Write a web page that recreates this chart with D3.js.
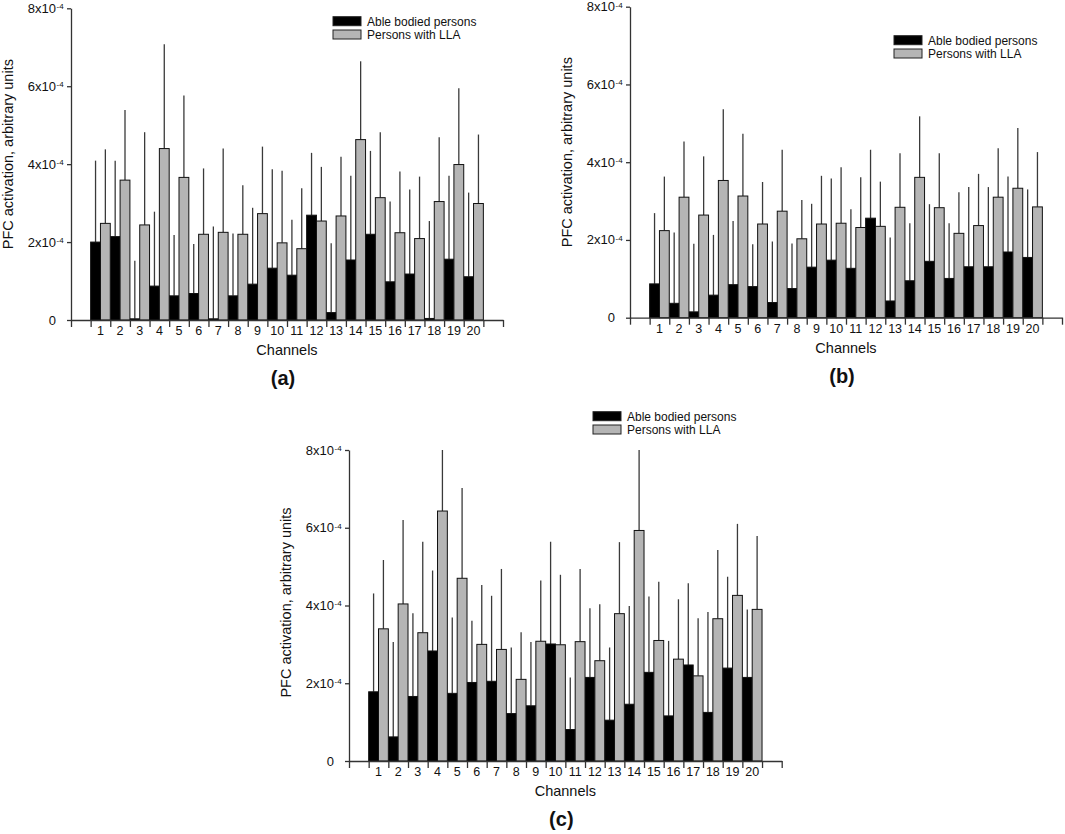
<!DOCTYPE html>
<html>
<head>
<meta charset="utf-8">
<script src="https://cdn.jsdelivr.net/npm/d3@7"></script>
<style>
  body { margin: 0; background: #fff; }
  svg { font-family: "Liberation Sans", Arial, sans-serif; }
</style>
</head>
<body>
<svg id="chart" width="1065" height="834"></svg>
<script>
// categories
var channels = ['1', '2', '3', '4', '5', '6', '7', '8', '9', '10',
  '11', '12', '13', '14', '15', '16', '17', '18', '19', '20']
var seriesNames = ['Able bodied persons', 'Persons with LLA']

// y ticks, values in units of 1e-4
var yTicks = [0, 2, 4, 6, 8]
var yTickBase = ['0', '2x10', '4x10', '6x10', '8x10']
var yTickExp = ['', '-4', '-4', '-4', '-4']

// (a) mean and SD, x1e-4
var ableA = [2.00, 2.14, 0.03, 0.87, 0.62, 0.68, 0.03, 0.62, 0.92, 1.33, 1.15, 2.69, 0.19, 1.54, 2.20, 0.98, 1.18, 0.04, 1.56, 1.11]
var ableSdA = [2.09, 1.95, 1.49, 1.91, 1.56, 1.27, 2.37, 1.60, 1.96, 2.54, 1.42, 1.60, 1.78, 2.16, 2.14, 2.06, 2.17, 2.50, 2.14, 2.16]
var llaA = [2.48, 3.59, 2.44, 4.40, 3.66, 2.20, 2.25, 2.20, 2.73, 1.98, 1.83, 2.54, 2.67, 4.63, 3.14, 2.24, 2.09, 3.04, 3.99, 2.99]
var llaSdA = [1.90, 1.80, 2.38, 2.68, 2.10, 1.69, 2.15, 1.26, 1.72, 1.85, 1.55, 1.39, 1.52, 2.01, 1.68, 1.57, 1.59, 1.65, 1.96, 1.77]

// (b)
var ableB = [0.87, 0.37, 0.15, 0.58, 0.85, 0.80, 0.39, 0.75, 1.30, 1.48, 1.27, 2.56, 0.43, 0.95, 1.45, 1.01, 1.31, 1.31, 1.69, 1.55]
var ableSdB = [1.82, 1.82, 1.75, 1.55, 1.64, 1.09, 1.57, 1.16, 1.63, 2.10, 1.52, 1.76, 1.63, 1.48, 1.47, 1.42, 2.05, 2.05, 1.94, 1.75]
var llaB = [2.24, 3.10, 2.64, 3.53, 3.13, 2.41, 2.74, 2.03, 2.41, 2.43, 2.32, 2.35, 2.84, 3.61, 2.83, 2.17, 2.37, 3.10, 3.33, 2.85]
var llaSdB = [1.39, 1.43, 1.51, 1.83, 1.60, 1.08, 1.58, 1.00, 1.24, 1.44, 1.29, 1.15, 1.39, 1.57, 1.40, 1.06, 1.33, 1.26, 1.55, 1.41]

// (c)
var ableC = [1.78, 0.62, 1.66, 2.83, 1.74, 2.02, 2.05, 1.22, 1.42, 3.01, 0.81, 2.15, 1.05, 1.46, 2.28, 1.16, 2.47, 1.25, 2.39, 2.15]
var ableSdC = [2.53, 2.44, 2.14, 2.07, 1.95, 1.59, 2.20, 1.70, 1.64, 2.63, 1.34, 1.78, 1.87, 2.53, 1.95, 1.93, 2.10, 2.58, 2.35, 1.75]
var llaC = [3.40, 4.04, 3.30, 6.43, 4.70, 3.00, 2.87, 2.10, 3.08, 2.99, 3.07, 2.58, 3.79, 5.93, 3.10, 2.62, 2.19, 3.66, 4.26, 3.90]
var llaSdC = [1.77, 2.16, 2.34, 1.57, 2.32, 1.53, 2.07, 1.21, 1.56, 1.80, 1.87, 1.45, 1.84, 2.07, 1.51, 1.54, 1.48, 1.77, 1.84, 1.89]

// layout of the three panels
var panels = [
  { tag: '(a)', left: 71, right: 503, top: 8.3, bottom: 320, lx: 333, ly: 16.7, labShift: 10,
    able: ableA, ableSd: ableSdA, lla: llaA, llaSd: llaSdA },
  { tag: '(b)', left: 630, right: 1062, top: 6.7, bottom: 317.7, lx: 894, ly: 35.7, labShift: 10,
    able: ableB, ableSd: ableSdB, lla: llaB, llaSd: llaSdB },
  { tag: '(c)', left: 349, right: 781.7, top: 450, bottom: 761, lx: 593, ly: 411.7, labShift: 3,
    able: ableC, ableSd: ableSdC, lla: llaC, llaSd: llaSdC }
]

var colors = ['#000000', '#b5b5b5']
var svg = d3.select('#chart')

panels.forEach(function (p) { drawPanel(p) })

function drawPanel (p) {
  var g = svg.append('g')
  // 22 slots: empty, channels 1..20, empty
  var slots = [''].concat(channels).concat([' '])
  var x = d3.scaleBand().domain(slots).range([p.left, p.right]).padding(0)
  var bw = x.bandwidth()
  var y = d3.scaleLinear().domain([0, 8]).range([p.bottom, p.top])

  // error bars first (only upward), clipped at top of axis
  var errData = []
  channels.forEach(function (c, i) {
    errData.push({ x: x(c) + bw / 4, v: p.able[i], sd: p.ableSd[i] })
    errData.push({ x: x(c) + bw * 3 / 4, v: p.lla[i], sd: p.llaSd[i] })
  })
  g.selectAll('line.err').data(errData).enter().append('line')
    .attr('class', 'err')
    .attr('x1', d => d.x).attr('x2', d => d.x)
    .attr('y1', d => y(d.v))
    .attr('y2', d => y(Math.min(8, d.v + d.sd)))
    .attr('stroke', '#3a3a3a').attr('stroke-width', 1.3)

  // bars
  var series = [p.able, p.lla]
  series.forEach(function (vals, s) {
    g.selectAll('rect.s' + s).data(vals).enter().append('rect')
      .attr('class', 's' + s)
      .attr('x', (d, i) => x(channels[i]) + s * bw / 2)
      .attr('width', bw / 2)
      .attr('y', d => y(d))
      .attr('height', d => y(0) - y(d))
      .attr('fill', colors[s])
      .attr('stroke', '#111').attr('stroke-width', 1)
  })

  // x axis: line + ticks at slot boundaries
  var xs = d3.scaleLinear().domain([0, slots.length]).range([p.left, p.right])
  var xAxis = g.append('g').attr('transform', 'translate(0,' + p.bottom + ')')
    .call(d3.axisBottom(xs).tickValues(d3.range(slots.length + 1)).tickSize(7).tickSizeOuter(0).tickFormat(''))
  xAxis.selectAll('path, line').attr('stroke', '#333').attr('stroke-width', 1.3)

  g.selectAll('text.xlab').data(channels).enter().append('text')
    .attr('class', 'xlab')
    .attr('x', d => x(d) + bw / 2)
    .attr('y', p.bottom + 15)
    .attr('text-anchor', 'middle')
    .attr('font-size', 12.5)
    .attr('fill', '#111')
    .text(d => d)

  // y axis
  var yAxis = g.append('g').attr('transform', 'translate(' + p.left + ',0)')
    .call(d3.axisLeft(y).tickValues(yTicks).tickSize(4).tickSizeOuter(0).tickFormat(''))
  yAxis.selectAll('path, line').attr('stroke', '#333').attr('stroke-width', 1.3)

  yTicks.forEach(function (t, i) {
    g.append('text')
      .attr('x', p.left - 15).attr('y', y(t) + 4.5)
      .attr('text-anchor', 'end')
      .attr('font-size', 13).attr('fill', '#111')
      .text(yTickBase[i])
    if (yTickExp[i]) {
      g.append('text')
        .attr('x', p.left - 14.5).attr('y', y(t) + 0.8)
        .attr('font-size', 8).attr('fill', '#111')
        .text(yTickExp[i])
    }
  })

  // axis titles
  g.append('text')
    .attr('transform', 'translate(' + (p.left - 58) + ',' + ((p.top + p.bottom) / 2 - p.labShift) + ') rotate(-90)')
    .attr('text-anchor', 'middle')
    .attr('font-size', 14.5).attr('fill', '#111')
    .text('PFC activation, arbitrary units')

  var cx = (p.left + p.right) / 2
  g.append('text')
    .attr('x', cx).attr('y', p.bottom + 35)
    .attr('text-anchor', 'middle')
    .attr('font-size', 14.5).attr('fill', '#111')
    .text('Channels')

  g.append('text')
    .attr('x', cx - 4).attr('y', p.bottom + 65)
    .attr('text-anchor', 'middle')
    .attr('font-size', 20).attr('font-weight', 'bold').attr('fill', '#111')
    .text(p.tag)

  // legend
  var lg = g.append('g').attr('transform', 'translate(' + p.lx + ',' + p.ly + ')')
  seriesNames.forEach(function (name, s) {
    lg.append('rect')
      .attr('x', 0).attr('y', s * 13.3)
      .attr('width', 28).attr('height', 9)
      .attr('fill', colors[s]).attr('stroke', '#222').attr('stroke-width', 1)
    lg.append('text')
      .attr('x', 34).attr('y', s * 13.3 + 9)
      .attr('font-size', 12).attr('fill', '#111')
      .text(name)
  })
}
</script>
</body>
</html>
